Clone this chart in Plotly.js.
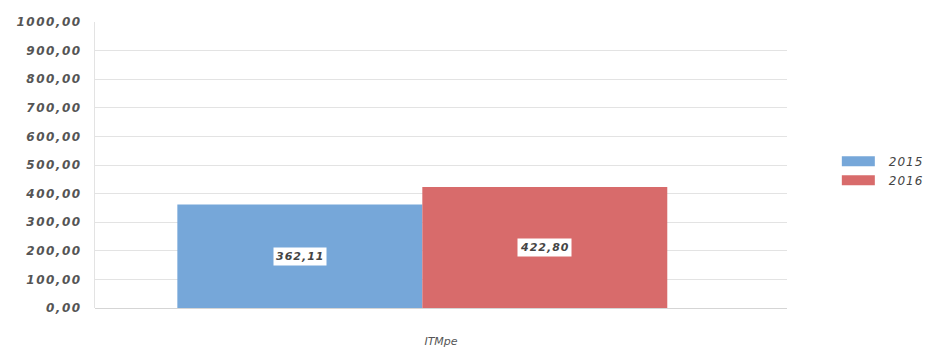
<!DOCTYPE html>
<html><head><meta charset="utf-8">
<script src="https://cdn.plot.ly/plotly-3.0.1.min.js"></script>
<style>html,body{margin:0;padding:0;background:#fff}#c{width:932px;height:347px}
.ytick text{letter-spacing:1.5px}
.legendtext{letter-spacing:1px}
.annotation-text{letter-spacing:1px}
</style>
</head><body><div id="c"></div>
<script>
const categories = ['ITMpe'];
const seriesNames = ['2015', '2016'];
const values2015 = [362.11];
const values2016 = [422.80];
const yTicks = [0,100,200,300,400,500,600,700,800,900,1000];

const colors = ['#76a7d9', '#d86b6b'];
const font = "'DejaVu Sans', Verdana, sans-serif";
const series = [values2015, values2016];
const offsets = [-0.381, -0.027];
const barW = 0.354;

const traces = series.map((vals, i) => ({
  type: 'bar', name: seriesNames[i], x: categories, y: vals,
  marker: {color: colors[i]}, offset: offsets[i], width: barW,
  hoverinfo: 'none'
}));

const annotations = [];
series.forEach((vals, i) => {
  vals.forEach((v, j) => {
    annotations.push({
      xref: 'x', yref: 'y', x: j + offsets[i] + barW/2, y: v/2,
      text: '<b><i>' + v.toFixed(2).replace('.', ',') + '</i></b>',
      showarrow: false, bgcolor: '#ffffff', borderpad: 2,
      font: {family: font, size: 11, color: '#444'}
    });
  });
});

const layout = {
  width: 932, height: 347,
  margin: {l: 95, r: 145, t: 22, b: 39, autoexpand: false},
  paper_bgcolor: '#fff', plot_bgcolor: '#fff',
  separators: ', ',
  barmode: 'overlay',
  showlegend: true,
  legend: {x: 1.046, xanchor: 'left', y: 0.48, yanchor: 'middle',
    font: {family: font, size: 12, color: '#444', style: 'italic'},
    tracegroupgap: 0, itemwidth: 60},
  xaxis: {type: 'category', range: [-0.5, 0.5], showgrid: false, zeroline: false,
    showline: false, ticks: '', ticklabelstandoff: 25,
    tickfont: {family: font, size: 11, color: '#555', style: 'italic'}},
  yaxis: {range: [0, 1000], tickvals: yTicks, tickformat: '.2f',
    showgrid: true, gridcolor: '#e3e3e3', gridwidth: 1,
    zeroline: true, zerolinecolor: '#d5d5d5', showline: true, linecolor: '#e3e3e3',
    ticks: '', ticklabelstandoff: 10,
    tickfont: {family: font, size: 12, color: '#555', style: 'italic', weight: 'bold'}},
  annotations: annotations
};
Plotly.newPlot('c', traces, layout, {displayModeBar: false, staticPlot: true}).then(gd => {
  gd.querySelectorAll('.legendpoints path').forEach(p => {
    p.setAttribute('d', 'M-12,5H21V-5H-12Z');
  });
});
</script></body></html>
